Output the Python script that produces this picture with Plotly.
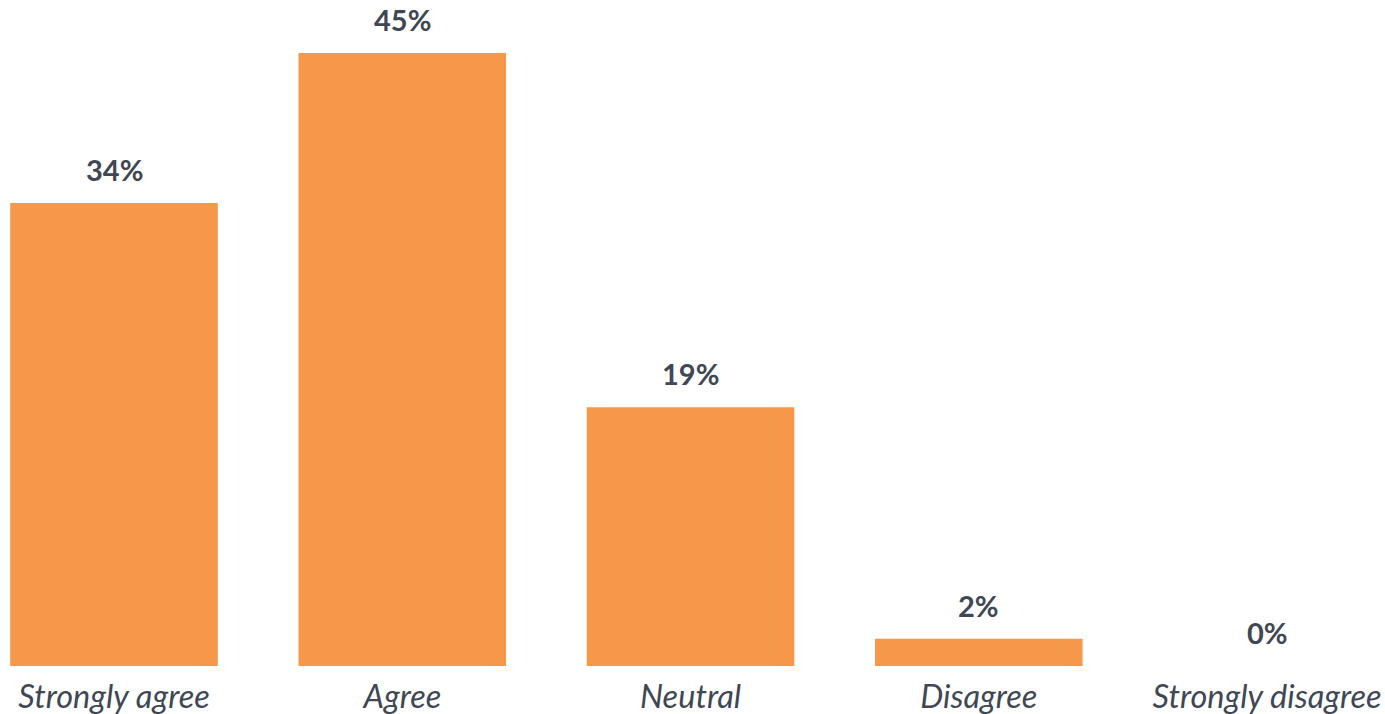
import plotly.graph_objects as go

categories = ["Strongly agree", "Agree", "Neutral", "Disagree", "Strongly disagree"]
shares = [34, 45, 19, 2, 0]
value_labels = ["34%", "45%", "19%", "2%", "0%"]

BAR_COLOR = "#F6974A"
TEXT_COLOR = "#3F4754"

fig = go.Figure(
    go.Bar(
        x=categories,
        y=shares,
        marker=dict(color=BAR_COLOR, line=dict(width=0)),
        width=0.72,
        hoverinfo="skip",
    )
)

for cat, val, lab in zip(categories, shares, value_labels):
    fig.add_annotation(
        x=cat,
        y=val,
        text=f"<b>{lab}</b>",
        showarrow=False,
        yanchor="bottom",
        yshift=14,
        font=dict(family="Lato", size=29, color=TEXT_COLOR),
    )

fig.update_layout(
    width=1385,
    height=714,
    margin=dict(l=0, r=0, t=0, b=48),
    paper_bgcolor="white",
    plot_bgcolor="white",
    showlegend=False,
    xaxis=dict(
        type="category",
        range=[-0.3955, 4.409],
        showgrid=False,
        showline=False,
        zeroline=False,
        ticks="",
        ticklabelstandoff=8,
        tickfont=dict(family="Lato", size=32.5, color=TEXT_COLOR, style="italic"),
    ),
    yaxis=dict(
        range=[0, 48.9],
        visible=False,
        showgrid=False,
        zeroline=False,
    ),
)

fig.write_html("out.html")
